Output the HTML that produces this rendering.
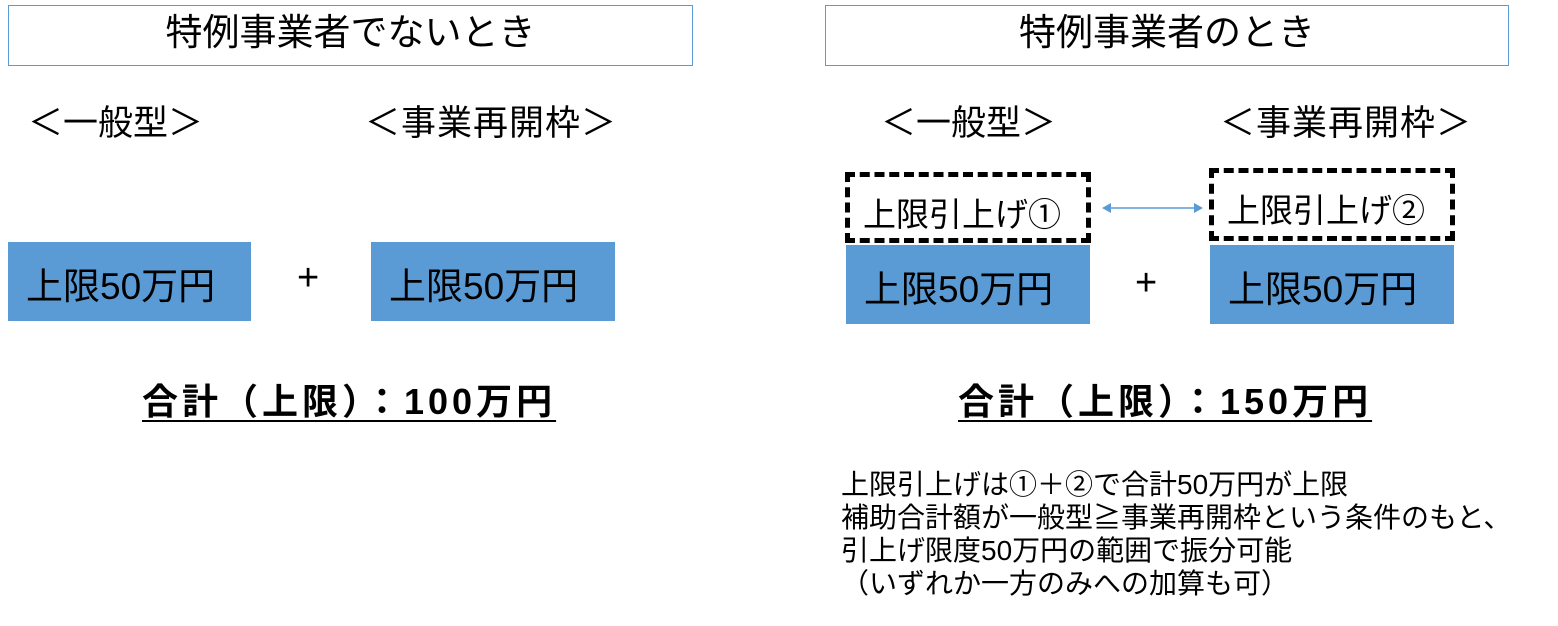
<!DOCTYPE html>
<html><head><meta charset="utf-8"><style>
body{margin:0;width:1558px;height:626px;background:#fff;position:relative;overflow:hidden;font-family:"Liberation Sans","Noto Sans CJK JP",sans-serif;color:#000}
div{position:absolute;white-space:nowrap}
.t{border:1.5px solid #5b9bd5;box-sizing:border-box;text-align:center;font-size:37px;line-height:54px}
.b{background:#5b9bd5;font-size:37px;line-height:90px;padding-left:18px;box-sizing:border-box;overflow:hidden}
.d{border:5px dashed #000;box-sizing:border-box;font-size:33px;line-height:76px;padding-left:13px;overflow:hidden}
.h{font-size:35px;line-height:40px}
.s{font-size:36px;font-weight:bold;letter-spacing:4px;text-decoration:underline;text-decoration-thickness:2px;text-underline-offset:6px}
.n{font-size:28px;line-height:33px}
.p{font-size:38px;font-weight:100}
</style></head><body>
<div class="t" style="left:8px;top:5px;width:685px;height:61px">特例事業者でないとき</div>
<div class="t" style="left:825px;top:5px;width:684px;height:61px">特例事業者のとき</div>
<div class="h" style="left:28px;top:104px">＜一般型＞</div>
<div class="h" style="left:365px;top:104px;letter-spacing:1px">＜事業再開枠＞</div>
<div class="h" style="left:881px;top:104px">＜一般型＞</div>
<div class="h" style="left:1220px;top:104px;letter-spacing:1px">＜事業再開枠＞</div>
<div class="b" style="left:8px;top:242px;width:243px;height:79px">上限50万円</div>
<div class="b" style="left:371px;top:242px;width:244px;height:79px">上限50万円</div>
<div class="p" style="left:297px;top:257px">+</div>
<div class="s" style="left:142px;top:373px">合計（上限）：100万円</div>
<div class="d" style="left:845px;top:172px;width:246px;height:71px">上限引上げ①</div>
<div class="d" style="left:1209px;top:168px;width:246px;height:73px">上限引上げ②</div>
<div class="b" style="left:846px;top:245px;width:244px;height:79px">上限50万円</div>
<div class="b" style="left:1210px;top:245px;width:244px;height:79px">上限50万円</div>
<div class="p" style="left:1135px;top:262px">+</div>
<svg style="position:absolute;left:1100px;top:200px" width="105" height="16">
<line x1="8" y1="8" x2="97" y2="8" stroke="#5b9bd5" stroke-width="1.5"/>
<polygon points="2,8 11,3 11,13" fill="#5b9bd5"/><polygon points="103,8 94,3 94,13" fill="#5b9bd5"/></svg>
<div class="s" style="left:958px;top:373px">合計（上限）：150万円</div>
<div class="n" style="left:841px;top:468px">上限引上げは①＋②で合計50万円が上限<br>補助合計額が一般型≧事業再開枠という条件のもと、<br>引上げ限度50万円の範囲で振分可能<br>（いずれか一方のみへの加算も可）</div>
</body></html>
